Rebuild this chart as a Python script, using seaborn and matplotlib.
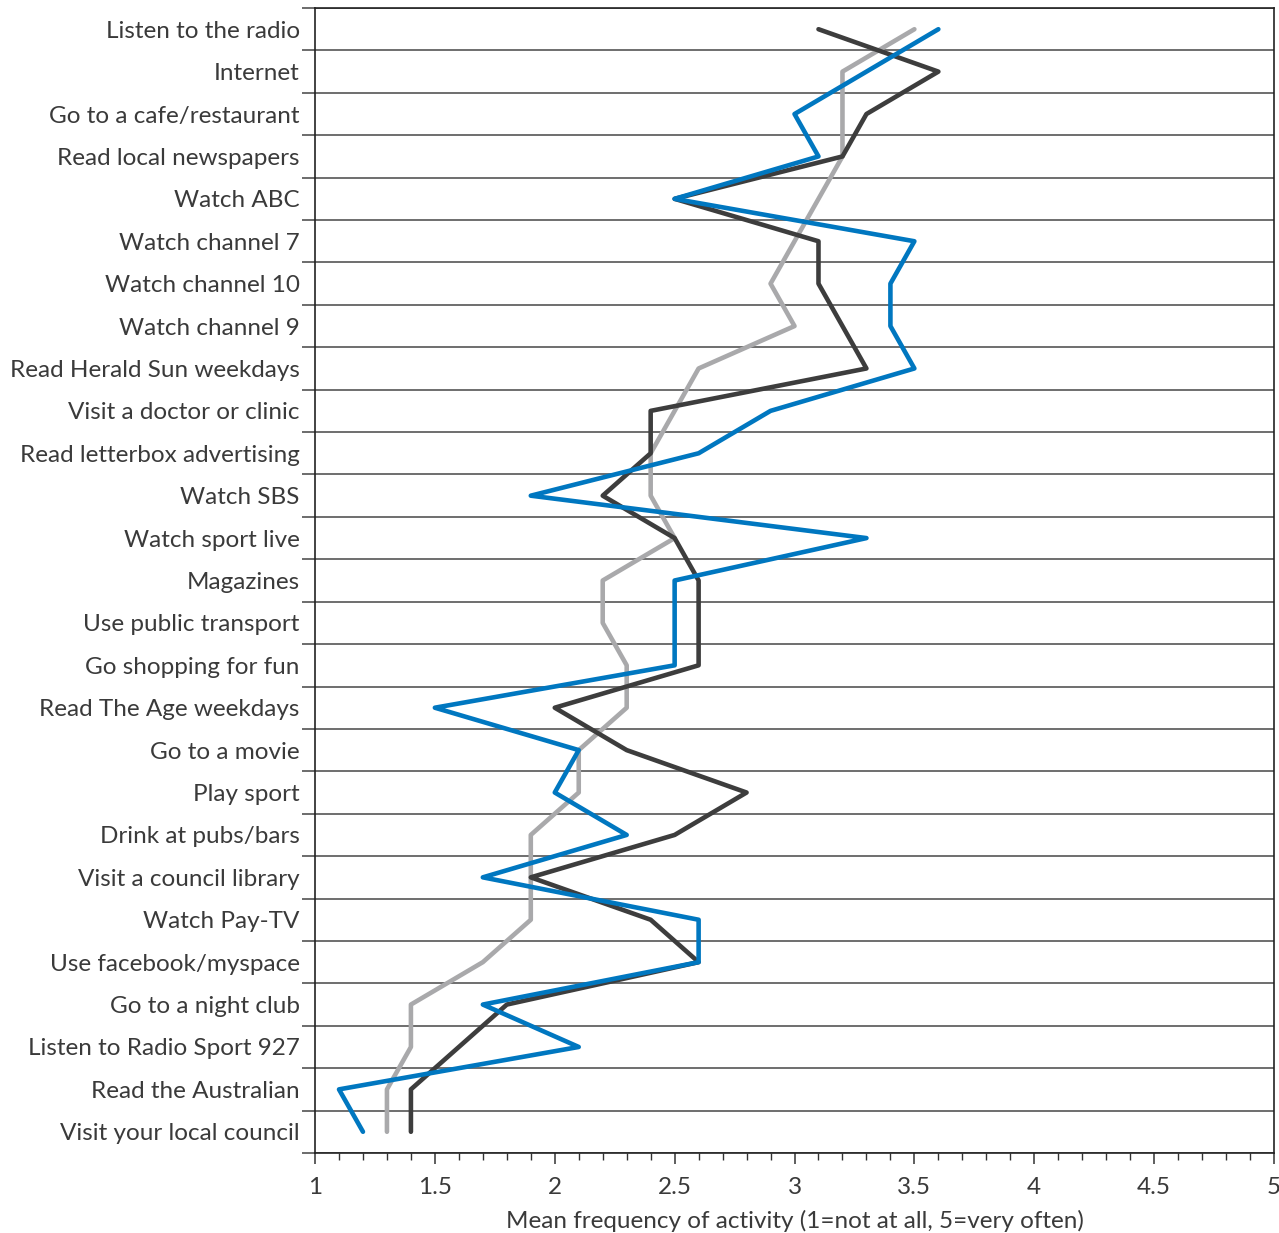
import matplotlib
matplotlib.use("Agg")
import matplotlib.pyplot as plt
import numpy as np
import pandas as pd
import seaborn as sns
from matplotlib.ticker import MultipleLocator, FixedLocator

# activities, top to bottom
activities = [
    "Listen to the radio", "Internet", "Go to a cafe/restaurant",
    "Read local newspapers", "Watch ABC", "Watch channel 7",
    "Watch channel 10", "Watch channel 9", "Read Herald Sun weekdays",
    "Visit a doctor or clinic", "Read letterbox advertising", "Watch SBS",
    "Watch sport live", "Magazines", "Use public transport",
    "Go shopping for fun", "Read The Age weekdays", "Go to a movie",
    "Play sport", "Drink at pubs/bars", "Visit a council library",
    "Watch Pay-TV", "Use facebook/myspace", "Go to a night club",
    "Listen to Radio Sport 927", "Read the Australian", "Visit your local council",
]

# mean frequency for the three groups (no legend in the source)
light_vals = [3.5, 3.2, 3.2, 3.2, 3.1, 3.0, 2.9, 3.0, 2.6, 2.5, 2.4, 2.4, 2.5, 2.2,
              2.2, 2.3, 2.3, 2.1, 2.1, 1.9, 1.9, 1.9, 1.7, 1.4, 1.4, 1.3, 1.3]
dark_vals = [3.1, 3.6, 3.3, 3.2, 2.5, 3.1, 3.1, 3.2, 3.3, 2.4, 2.4, 2.2, 2.5, 2.6,
             2.6, 2.6, 2.0, 2.3, 2.8, 2.5, 1.9, 2.4, 2.6, 1.8, 1.6, 1.4, 1.4]
blue_vals = [3.6, 3.3, 3.0, 3.1, 2.5, 3.5, 3.4, 3.4, 3.5, 2.9, 2.6, 1.9, 3.3, 2.5,
             2.5, 2.5, 1.5, 2.1, 2.0, 2.3, 1.7, 2.6, 2.6, 1.7, 2.1, 1.1, 1.2]

series_names = ["Group C", "Group B", "Group A"]
series_colors = {"Group C": "#a9a9ab", "Group B": "#3d3d3d", "Group A": "#0077c0"}

x_ticks = [1, 1.5, 2, 2.5, 3, 3.5, 4, 4.5, 5]
x_tick_labels = ["1", "1.5", "2", "2.5", "3", "3.5", "4", "4.5", "5"]

rows = []
for name, vals in zip(series_names, [light_vals, dark_vals, blue_vals]):
    for pos, v in enumerate(vals):
        rows.append({"series": name, "pos": pos, "value": v})
df = pd.DataFrame(rows)

sns.set_style("white")
plt.rcParams["font.family"] = ["Lato", "DejaVu Sans"]
text_color = "#3a3a3a"

fig = plt.figure(figsize=(12.79, 12.33), dpi=100)
ax = fig.add_axes([0.2463, 0.0649, 0.7498, 0.9286])

sns.lineplot(data=df, x="value", y="pos", hue="series", palette=series_colors,
             hue_order=series_names, sort=False, estimator=None,
             linewidth=3.3, legend=False, ax=ax)

n = len(activities)
ax.set_xlim(1, 5)
ax.set_ylim(n - 0.5, -0.5)

# category labels at row centres, separator lines between rows
ax.yaxis.set_major_locator(FixedLocator(np.arange(n)))
ax.set_yticklabels(activities, fontsize=17.5, color=text_color)
ax.yaxis.set_minor_locator(FixedLocator(np.arange(n + 1) - 0.5))
ax.tick_params(axis="y", which="major", length=0, pad=11)
ax.tick_params(axis="y", which="minor", length=9.5, width=1.1, color="#444444", left=True)
ax.grid(False)
ax.grid(axis="y", which="minor", color="#555555", linewidth=1.2)

ax.set_xticks(x_ticks)
ax.set_xticklabels(x_tick_labels, fontsize=17.5, color=text_color)
ax.xaxis.set_minor_locator(MultipleLocator(0.1))
ax.tick_params(axis="x", which="major", length=8, width=1.1, color="#333333",
               direction="out", bottom=True, pad=9)
ax.tick_params(axis="x", which="minor", length=5, width=1.0, color="#333333",
               direction="out", bottom=True)

ax.set_xlabel("Mean frequency of activity (1=not at all, 5=very often)",
              fontsize=17.5, color=text_color, labelpad=9)
ax.set_ylabel("")

for side in ["left", "right", "top", "bottom"]:
    ax.spines[side].set_visible(True)
    ax.spines[side].set_color("#222222")
    ax.spines[side].set_linewidth(1.2)

fig.savefig("out.png", dpi=100)
